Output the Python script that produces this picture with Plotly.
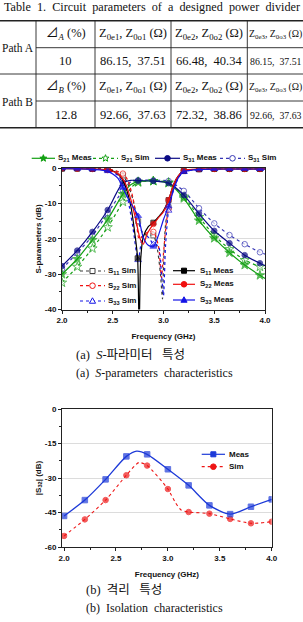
import math
import plotly.graph_objects as go

W, H = 303, 622

# ---------------- data: S-parameters (top chart) ----------------
S21_MEAS_F = [2.0, 2.15, 2.3, 2.45, 2.6, 2.68, 2.75, 2.9, 3.05, 3.2, 3.35, 3.5, 3.65, 3.8, 3.95, 4.0]
S21_MEAS_DB = [-30.0, -25.7, -20.3, -14.5, -7.3, -4.6, -3.8, -3.6, -4.2, -8.5, -14.8, -19.8, -23.9, -27.4, -30.3, -31.2]

S21_SIM_F = [2.0, 2.15, 2.3, 2.45, 2.6, 2.68, 2.75, 2.9, 3.05, 3.2, 3.35, 3.5, 3.65, 3.8, 3.95, 4.0]
S21_SIM_DB = [-32.4, -27.9, -22.7, -16.7, -9.5, -5.5, -4.0, -3.6, -4.0, -8.0, -13.8, -19.0, -22.9, -26.0, -27.9, -28.4]

S31_MEAS_F = [2.0, 2.15, 2.3, 2.45, 2.6, 2.68, 2.75, 2.9, 3.05, 3.2, 3.35, 3.5, 3.65, 3.8, 3.95, 4.0]
S31_MEAS_DB = [-27.7, -23.3, -18.0, -11.8, -4.1, -3.4, -3.5, -3.6, -4.2, -7.6, -12.9, -17.7, -21.2, -24.6, -26.9, -27.6]

S31_SIM_F = [2.0, 2.15, 2.3, 2.45, 2.6, 2.68, 2.75, 2.9, 3.05, 3.2, 3.35, 3.5, 3.65, 3.8, 3.95, 4.0]
S31_SIM_DB = [-28.5, -24.0, -19.1, -12.7, -6.3, -3.8, -3.4, -3.4, -3.6, -6.4, -11.3, -15.6, -18.9, -21.5, -23.8, -24.3]

S11_MEAS_F = [2.0, 2.15, 2.3, 2.45, 2.52, 2.58, 2.63, 2.68, 2.72, 2.745, 2.76, 2.775, 2.8, 2.85, 2.9, 2.95, 3.0, 3.05,
              3.1, 3.15, 3.2, 3.35, 3.5, 3.65, 3.8, 3.95, 4.0]
S11_MEAS_DB = [-0.1, -0.1, -0.2, -0.4, -1.0, -2.5, -5.5, -11.0, -19.0, -25.5, -46.0, -26.0, -19.5, -16.5, -15.4, -13.8, -12.0,
               -9.0, -4.5, -2.0, -0.7, -0.3, -0.2, -0.2, -0.2, -0.2, -0.2]

S22_MEAS_F = [2.0, 2.15, 2.3, 2.45, 2.55, 2.62, 2.68, 2.73, 2.77, 2.8, 2.84, 2.9, 2.95, 3.0, 3.05, 3.1, 3.15, 3.2,
              3.35, 3.5, 3.65, 3.8, 3.95, 4.0]
S22_MEAS_DB = [0.0, -0.1, -0.2, -0.5, -1.5, -4.0, -9.0, -15.0, -20.0, -21.5, -18.5, -15.8, -14.0, -12.3, -9.0, -4.5, -2.0, -0.6,
               -0.2, -0.2, -0.2, -0.2, -0.2, -0.2]

S33_MEAS_F = [2.0, 2.15, 2.3, 2.45, 2.55, 2.6, 2.65, 2.7, 2.75, 2.8, 2.85, 2.9, 2.95, 3.0, 3.05, 3.1, 3.15, 3.2,
              3.35, 3.5, 3.65, 3.8, 3.95, 4.0]
S33_MEAS_DB = [0.0, -0.1, -0.3, -0.8, -2.8, -5.5, -8.5, -11.0, -13.5, -19.5, -21.8, -22.2, -19.0, -14.5, -10.8, -6.0, -2.5, -1.0,
               -0.3, -0.2, -0.2, -0.2, -0.2, -0.2]

S11_SIM_F = [2.0, 2.15, 2.3, 2.45, 2.55, 2.6, 2.65, 2.7, 2.75, 2.8, 2.85, 2.9, 2.94, 2.97, 2.99, 3.0, 3.02, 3.05,
             3.1, 3.15, 3.2, 3.35, 3.5, 3.65, 3.8, 3.95, 4.0]
S11_SIM_DB = [0.0, 0.0, -0.1, -0.3, -1.0, -2.0, -4.5, -9.0, -15.0, -18.5, -19.0, -19.0, -23.0, -30.0, -37.0, -28.0, -16.0, -11.0,
              -5.5, -2.2, -0.8, -0.2, -0.1, -0.1, -0.1, -0.1, -0.1]

S22_SIM_F = [2.0, 2.15, 2.3, 2.45, 2.6, 2.65, 2.7, 2.73, 2.76, 2.8, 2.85, 2.9, 2.95, 2.98, 3.0, 3.03, 3.05, 3.1,
             3.15, 3.2, 3.35, 3.5, 3.65, 3.8, 3.95, 4.0]
S22_SIM_DB = [0.0, 0.0, -0.1, -0.2, -1.5, -3.5, -8.5, -14.0, -20.0, -19.0, -18.0, -18.0, -22.0, -31.0, -24.0, -15.0, -11.5, -5.5,
              -2.0, -0.7, -0.2, -0.1, -0.1, -0.1, -0.1, -0.1]

S33_SIM_F = [2.0, 2.15, 2.3, 2.45, 2.55, 2.6, 2.65, 2.7, 2.75, 2.8, 2.85, 2.9, 2.95, 2.98, 3.0, 3.02, 3.05, 3.1,
             3.15, 3.2, 3.35, 3.5, 3.65, 3.8, 3.95, 4.0]
S33_SIM_DB = [0.0, 0.0, -0.2, -0.5, -2.0, -4.5, -9.0, -17.0, -26.0, -19.0, -19.5, -21.5, -22.0, -30.0, -36.0, -22.0, -12.0, -6.0,
              -2.5, -1.0, -0.3, -0.2, -0.2, -0.2, -0.2, -0.2]

TOP_MARK_F = [2.0, 2.15, 2.3, 2.45, 2.6, 2.75, 2.9, 3.05, 3.2, 3.35, 3.5, 3.65, 3.8, 3.95]
TOP_XTICKS = [2.0, 2.5, 3.0, 3.5, 4.0]
TOP_XLABELS = ["2.0", "2.5", "3.0", "3.5", "4.0"]
TOP_YTICKS = [0, -10, -20, -30, -40]
TOP_YLABELS = ["0", "-10", "-20", "-30", "-40"]

# ---------------- data: isolation (bottom chart) ----------------
ISO_MEAS_F = [2.0, 2.2, 2.4, 2.6, 2.7, 2.8, 3.0, 3.2, 3.4, 3.6, 3.8, 4.0]
ISO_MEAS_DB = [-46.5, -39.6, -30.6, -20.6, -18.3, -19.7, -26.2, -33.2, -41.9, -45.7, -42.5, -39.3]
ISO_SIM_F = [2.0, 2.2, 2.4, 2.6, 2.72, 2.8, 3.0, 3.07, 3.13, 3.2, 3.4, 3.6, 3.8, 4.0]
ISO_SIM_DB = [-55.2, -48.0, -39.6, -28.8, -23.3, -24.6, -34.8, -40.5, -44.0, -44.8, -45.5, -47.8, -49.7, -49.0]
BOT_MARK_F = [2.0, 2.2, 2.4, 2.6, 2.8, 3.0, 3.2, 3.4, 3.6, 3.8, 4.0]
BOT_XTICKS = [2.0, 2.5, 3.0, 3.5, 4.0]
BOT_XLABELS = ["2.0", "2.5", "3.0", "3.5", "4.0"]
BOT_YTICKS = [0, -15, -30, -45, -60]
BOT_YLABELS = ["0", "-15", "-30", "-45", "-60"]

# ---------------- table ----------------
TABLE_TITLE = "Table\u00a0 1.\u00a0 Circuit\u00a0 parameters\u00a0 of\u00a0 a\u00a0 designed\u00a0 power\u00a0 divider"
ROW_A_HEAD = ["\u22bf<sub><i>A</i></sub> (%)", "Z<sub>0e1</sub>, Z<sub>0o1</sub> (\u03a9)",
              "Z<sub>0e2</sub>, Z<sub>0o2</sub> (\u03a9)", "Z<sub>0e3</sub>, Z<sub>0o3</sub> (\u03a9)"]
ROW_A_VALS = ["10", "86.15,\u00a0 37.51", "66.48,\u00a0 40.34", "86.15,\u00a0 37.51"]
ROW_B_HEAD = ["\u22bf<sub><i>B</i></sub> (%)", "Z<sub>0e1</sub>, Z<sub>0o1</sub> (\u03a9)",
              "Z<sub>0e2</sub>, Z<sub>0o2</sub> (\u03a9)", "Z<sub>0e3</sub>, Z<sub>0o3</sub> (\u03a9)"]
ROW_B_VALS = ["12.8", "92.66,\u00a0 37.63", "72.32,\u00a0 38.86", "92.66,\u00a0 37.63"]
PATHS = ["Path A", "Path B"]

# ---------------- styling ----------------
GREEN = "#13a013"
NAVY = "#0b0b85"
S31SIM = "#3535b5"
BLACK = "#000000"
GRAY = "#3c3c3c"
RED = "#f01010"
BLUE = "#1414e6"
ISO_BLUE = "#1d3ad8"
ISO_RED = "#ee1515"
SANS = "Liberation Sans, Arial, sans-serif"
SERIF = "Liberation Serif, Times New Roman, Noto Sans CJK KR, serif"
KSERIF = "Liberation Serif, Noto Sans CJK KR, serif"


def X(px):
    return px / W


def Y(py):
    return 1 - py / H


def on_grid(f, grid, tol=0.006):
    return any(abs(f - g) < tol for g in grid)


fig = go.Figure()


def add_series(F, DB, color, dash, symbol, filled, msize, grid, xa, ya, name, width=1.2):
    sizes = [msize if on_grid(f, grid) else 0 for f in F]
    fig.add_trace(go.Scatter(
        x=F, y=DB, mode="lines+markers", name=name, showlegend=False,
        line=dict(color=color, width=width, dash=dash, shape="spline", smoothing=0.7),
        marker=dict(symbol=symbol, size=sizes, color=color if filled else "white",
                    line=dict(color=color, width=1)),
        xaxis=xa, yaxis=ya, cliponaxis=True))


# top chart traces: sims first, then measurements
add_series(S21_SIM_F, S21_SIM_DB, GREEN, "dot", "star", False, 7, TOP_MARK_F, "x", "y", "S21 Sim")
add_series(S31_SIM_F, S31_SIM_DB, S31SIM, "dot", "circle", False, 5.5, TOP_MARK_F, "x", "y", "S31 Sim")
add_series(S11_SIM_F, S11_SIM_DB, GRAY, "dot", "square", False, 5, TOP_MARK_F, "x", "y", "S11 Sim")
add_series(S22_SIM_F, S22_SIM_DB, RED, "dot", "circle", False, 5.5, TOP_MARK_F, "x", "y", "S22 Sim")
add_series(S33_SIM_F, S33_SIM_DB, BLUE, "dot", "triangle-up", False, 6, TOP_MARK_F, "x", "y", "S33 Sim")
add_series(S21_MEAS_F, S21_MEAS_DB, GREEN, "solid", "star", True, 7, TOP_MARK_F, "x", "y", "S21 Meas")
add_series(S31_MEAS_F, S31_MEAS_DB, NAVY, "solid", "circle", True, 5.5, TOP_MARK_F, "x", "y", "S31 Meas")
add_series(S11_MEAS_F, S11_MEAS_DB, BLACK, "solid", "square", True, 5, TOP_MARK_F + [2.745], "x", "y", "S11 Meas")
add_series(S22_MEAS_F, S22_MEAS_DB, RED, "solid", "circle", True, 5.5, TOP_MARK_F, "x", "y", "S22 Meas")
add_series(S33_MEAS_F, S33_MEAS_DB, BLUE, "solid", "triangle-up", True, 6, TOP_MARK_F, "x", "y", "S33 Meas")

# bottom chart traces
add_series(ISO_SIM_F, ISO_SIM_DB, ISO_RED, "dot", "circle", True, 5.5, BOT_MARK_F, "x2", "y2", "Sim", width=1.1)
add_series(ISO_MEAS_F, ISO_MEAS_DB, ISO_BLUE, "solid", "square", True, 5.5, BOT_MARK_F, "x2", "y2", "Meas", width=1.3)

shapes = []
annos = []


def text(x, y, s, size, family=SANS, bold=False, anchor="left", color="#111111", yanchor="middle"):
    annos.append(dict(x=X(x), y=Y(y), xref="paper", yref="paper", text=s, showarrow=False,
                      xanchor=anchor, yanchor=yanchor, borderpad=0,
                      font=dict(size=size, family=family, color=color,
                                weight="bold" if bold else "normal")))


def hline(x0, x1, y, width=1, color="#222222", dash="solid"):
    shapes.append(dict(type="line", xref="paper", yref="paper", x0=X(x0), x1=X(x1), y0=Y(y), y1=Y(y),
                       line=dict(color=color, width=width, dash=dash)))


def vline(x, y0, y1, width=1, color="#222222"):
    shapes.append(dict(type="line", xref="paper", yref="paper", x0=X(x), x1=X(x), y0=Y(y0), y1=Y(y1),
                       line=dict(color=color, width=width)))


def path_of(pts):
    return "M" + "L".join(f"{X(px):.5f},{Y(py):.5f}" for px, py in pts) + "Z"


def glyph(kind, cx, cy, color, filled, r=2.8):
    fill = color if filled else "white"
    ln = dict(color=color, width=1)
    if kind == "circle":
        shapes.append(dict(type="circle", xref="paper", yref="paper", x0=X(cx - r), x1=X(cx + r),
                           y0=Y(cy + r), y1=Y(cy - r), fillcolor=fill, line=ln))
    elif kind == "square":
        q = r * 0.9
        shapes.append(dict(type="rect", xref="paper", yref="paper", x0=X(cx - q), x1=X(cx + q),
                           y0=Y(cy + q), y1=Y(cy - q), fillcolor=fill, line=ln))
    elif kind == "triangle":
        pts = [(cx, cy - r * 1.15), (cx + r * 1.1, cy + r * 0.8), (cx - r * 1.1, cy + r * 0.8)]
        shapes.append(dict(type="path", xref="paper", yref="paper", path=path_of(pts), fillcolor=fill, line=ln))
    elif kind == "star":
        pts = []
        for i in range(10):
            rr = r * 1.3 if i % 2 == 0 else r * 0.55
            a = -math.pi / 2 + i * math.pi / 5
            pts.append((cx + rr * math.cos(a), cy + rr * math.sin(a)))
        shapes.append(dict(type="path", xref="paper", yref="paper", path=path_of(pts), fillcolor=fill, line=ln))


def legend_item(x0, x1, y, color, dash, kind, filled, label, tx, size=8):
    hline(x0, x1, y, width=1.2, color=color, dash=dash)
    glyph(kind, (x0 + x1) / 2, y, color, filled)
    text(tx, y, label, size, bold=True, color="#111111")


# ---- table ----
text(151.5, 7, TABLE_TITLE, 12.2, family=SERIF, anchor="center")
hline(-2, 305, 20.7, width=1.4)
hline(36, 305, 47.7, width=0.9)
hline(-2, 305, 74, width=0.9)
hline(36, 305, 101, width=0.9)
hline(-2, 305, 127.7, width=1.4)
for vx in [36, 95, 171, 247.3]:
    vline(vx, 20.7, 127.7, width=0.9)
COL_CX = [65.5, 133, 209, 275.5]
COL_FS = [12.5, 12.5, 12.5, 9.8]
text(17.5, 48, PATHS[0], 11.5, family=SERIF, anchor="center")
text(17.5, 102, PATHS[1], 11.5, family=SERIF, anchor="center")
for cx, fs, s in zip(COL_CX, COL_FS, ROW_A_HEAD):
    text(cx, 34, s, fs, family=SERIF, anchor="center")
for cx, fs, s in zip(COL_CX, COL_FS, ROW_A_VALS):
    text(cx, 61.5, s, fs, family=SERIF, anchor="center")
for cx, fs, s in zip(COL_CX, COL_FS, ROW_B_HEAD):
    text(cx, 87.5, s, fs, family=SERIF, anchor="center")
for cx, fs, s in zip(COL_CX, COL_FS, ROW_B_VALS):
    text(cx, 115, s, fs, family=SERIF, anchor="center")

# ---- top chart legends ----
legend_item(31.7, 55, 158.3, GREEN, "solid", "star", True, "S<sub>21</sub> Meas", 56.5)
legend_item(93, 118, 158.3, GREEN, "dot", "star", False, "S<sub>21</sub> Sim", 119.5)
legend_item(155, 180, 158.3, NAVY, "solid", "circle", True, "S<sub>31</sub> Meas", 182)
legend_item(220, 245, 158.3, S31SIM, "dot", "circle", False, "S<sub>31</sub> Sim", 247)

legend_item(80, 105, 271, GRAY, "dot", "square", False, "S<sub>11</sub> Sim", 106.7)
legend_item(80, 105, 285.7, RED, "dot", "circle", False, "S<sub>22</sub> Sim", 106.7)
legend_item(80, 105, 301, BLUE, "dot", "triangle", False, "S<sub>33</sub> Sim", 106.7)
legend_item(173, 195, 270.7, BLACK, "solid", "square", True, "S<sub>11</sub> Meas", 199)
legend_item(173, 195, 284.3, RED, "solid", "circle", True, "S<sub>22</sub> Meas", 199)
legend_item(173, 195, 300, BLUE, "solid", "triangle", True, "S<sub>33</sub> Meas", 199)

# ---- bottom chart legend ----
legend_item(201.7, 225, 454.3, ISO_BLUE, "solid", "square", True, "Meas", 227.7)
legend_item(201.7, 225, 466.7, ISO_RED, "dot", "circle", True, "Sim", 227.7)

# ---- captions ----
text(75, 355, "(a)\u00a0 <i>S</i>-\ud30c\ub77c\ubbf8\ud130\u00a0\u00a0 \ud2b9\uc131", 12.5, family=KSERIF)
text(75, 373, "(a)\u00a0 <i>S</i>-parameters\u00a0 characteristics", 12, family=SERIF)
text(85, 590, "(b)\u00a0 \uaca9\ub9ac\u00a0\u00a0 \ud2b9\uc131", 12.5, family=KSERIF)
text(85, 608, "(b)\u00a0 Isolation\u00a0 characteristics", 12, family=SERIF)

tickfont = dict(size=8, family=SANS, color="#111111", weight="bold")
titlefont = dict(size=8, family=SANS, color="#111111", weight="bold")
common_x = dict(showline=True, linecolor="#222222", linewidth=1, mirror=True, ticks="outside", ticklen=3,
                tickcolor="#222222", showgrid=False, zeroline=False, tickfont=tickfont,
                minor=dict(ticks="outside", ticklen=2, tickcolor="#222222", dtick=0.25), automargin=False)
common_y = dict(showline=True, linecolor="#222222", linewidth=1, mirror=True, ticks="outside", ticklen=3,
                tickcolor="#222222", showgrid=True, gridcolor="#dcdcdc", gridwidth=0.8, zeroline=False,
                tickfont=tickfont, automargin=False)

fig.update_layout(
    width=W, height=H, margin=dict(l=0, r=0, t=0, b=0), autosize=False,
    paper_bgcolor="white", plot_bgcolor="white", showlegend=False,
    xaxis=dict(domain=[X(62), X(265)], range=[2.0, 4.0], tickvals=TOP_XTICKS, ticktext=TOP_XLABELS,
               title=dict(text="Frequency (GHz)", font=titlefont, standoff=9), anchor="y", **common_x),
    yaxis=dict(domain=[Y(309.5), Y(168.3)], range=[-40, 0], tickvals=TOP_YTICKS, ticktext=TOP_YLABELS,
               title=dict(text="S-parameters (dB)", font=titlefont, standoff=2), anchor="x",
               minor=dict(ticks="outside", ticklen=2, tickcolor="#222222", dtick=5), **common_y),
    xaxis2=dict(domain=[X(62), X(271.7)], range=[1.98, 4.0], tickvals=BOT_XTICKS, ticktext=BOT_XLABELS,
                title=dict(text="Frequency (GHz)", font=titlefont, standoff=9), anchor="y2", **common_x),
    yaxis2=dict(domain=[Y(547), Y(409)], range=[-60, 0], tickvals=BOT_YTICKS, ticktext=BOT_YLABELS,
                title=dict(text="|S<sub>32</sub>| (dB)", font=titlefont, standoff=2), anchor="x2",
                minor=dict(ticks="outside", ticklen=2, tickcolor="#222222", dtick=7.5), **common_y),
    shapes=shapes, annotations=annos,
)

fig.write_html("out.html")
